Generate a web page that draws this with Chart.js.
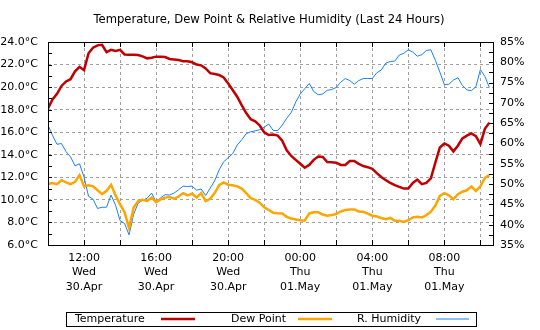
<!DOCTYPE html>
<html>
<head>
<meta charset="utf-8">
<script src="https://cdn.jsdelivr.net/npm/chart.js@4.4.1/dist/chart.umd.min.js"></script>
<style>
  html, body { margin: 0; padding: 0; background: #fff; }
</style>
</head>
<body>
<canvas id="chart" width="540" height="330"></canvas>
<script>
// readings every 15 min, x = hours after 10:00 Wed 30.Apr
const stepHours = 0.25;

const temperature = [
  18.1, 18.9, 19.4, 20.1, 20.5, 20.7, 21.4, 21.8,
  21.5, 23.0, 23.5, 23.7, 23.75, 23.1, 23.3, 23.2,
  23.3, 22.9, 22.88, 22.88, 22.85, 22.72, 22.55, 22.6,
  22.7, 22.7, 22.67, 22.5, 22.45, 22.4, 22.3, 22.3,
  22.2, 22.0, 21.93, 21.65, 21.24, 21.16, 21.07, 20.85,
  20.33, 19.75, 19.15, 18.4, 17.7, 17.15, 16.97, 16.6,
  16.0, 15.75, 15.8, 15.7, 15.25, 14.4, 13.9, 13.55,
  13.2, 12.85, 13.1, 13.55, 13.85, 13.8, 13.35, 13.33,
  13.3, 13.1, 13.1, 13.45, 13.45, 13.2, 13.0, 12.9,
  12.75, 12.37, 12.03, 11.75, 11.5, 11.3, 11.15, 11.0,
  11.0, 11.5, 11.8, 11.4, 11.5, 11.9, 13.3, 14.65,
  15.0, 14.8, 14.3, 14.8, 15.45, 15.7, 15.9, 15.65,
  14.95, 16.3, 16.85
];

const dewPoint = [
  11.4, 11.5, 11.4, 11.75, 11.55, 11.4, 11.6, 12.2,
  11.2, 11.3, 11.2, 10.85, 10.5, 10.8, 11.35, 10.4,
  9.6, 8.9, 7.5, 9.3, 9.9, 10.0, 9.9, 10.2,
  9.8, 10.05, 10.2, 10.25, 10.1, 10.3, 10.6, 10.4,
  10.55, 10.2, 10.6, 9.9, 10.1, 10.6, 11.3, 11.55,
  11.35, 11.3, 11.2, 11.0, 10.6, 10.15, 10.0, 9.75,
  9.35, 9.1, 8.85, 8.82, 8.8, 8.5, 8.35, 8.27,
  8.2, 8.15, 8.8, 8.9, 8.9, 8.7, 8.6, 8.65,
  8.75, 8.97, 9.1, 9.15, 9.15, 8.97, 8.95, 8.78,
  8.6, 8.53, 8.4, 8.28, 8.4, 8.14, 8.14, 8.05,
  8.2, 8.45, 8.5, 8.44, 8.65, 8.95, 9.5, 10.35,
  10.6, 10.4, 10.05, 10.5, 10.72, 10.85, 11.2, 10.8,
  11.2, 11.95, 12.2
];

const humidity = [
  64.5, 62.0, 59.8, 60.0, 58.0, 56.7, 54.5, 55.0,
  51.7, 47.0, 46.3, 44.0, 44.3, 44.3, 47.3, 44.8,
  41.0, 40.3, 37.5, 42.5, 45.3, 46.0, 46.5, 47.8,
  45.6, 46.6, 47.4, 47.3, 47.8, 48.6, 49.5, 49.4,
  49.5, 48.5, 48.8, 47.2, 49.0, 50.8, 53.5, 55.5,
  56.5, 57.5, 59.6, 60.9, 62.4, 62.9, 63.1, 63.4,
  64.0, 64.8, 63.2, 63.2, 64.5, 66.2, 67.6, 70.2,
  72.2, 73.5, 74.8, 72.8, 72.0, 72.2, 73.1, 73.3,
  73.8, 75.1, 76.0, 75.5, 74.6, 75.5, 76.0, 76.0,
  76.0, 77.4, 78.1, 79.8, 80.2, 80.3, 81.8, 82.2,
  83.1, 82.5, 81.5, 81.9, 82.9, 83.1, 80.5, 77.6,
  74.5, 74.6, 75.6, 76.2, 74.3, 73.2, 73.0, 74.0,
  78.2, 76.5, 73.8
];

const tickHours = [2, 6, 10, 14, 18, 22];
const tickLabels = [
  ['12:00', 'Wed', '30.Apr'],
  ['16:00', 'Wed', '30.Apr'],
  ['20:00', 'Wed', '30.Apr'],
  ['00:00', 'Thu', '01.May'],
  ['04:00', 'Thu', '01.May'],
  ['08:00', 'Thu', '01.May']
];

const seriesNames = ['Temperature', 'Dew Point', 'R. Humidity'];
const seriesColors = ['#c00000', '#ffa500', '#1a80f0'];
const titleText = 'Temperature, Dew Point & Relative Humidity (Last 24 Hours)';

const FONT = 'DejaVu Sans';
Chart.defaults.font.family = FONT;
Chart.defaults.color = '#000';

function toPoints(arr) {
  return arr.map((v, i) => ({ x: i * stepHours, y: v }));
}

// frame, inward ticks, title and legend box
const framePlugin = {
  id: 'frame',
  afterDraw(chart) {
    const ctx = chart.ctx;
    const a = chart.chartArea;
    const sx = chart.scales.x, sy = chart.scales.y, sy2 = chart.scales.y2;
    ctx.save();
    ctx.strokeStyle = '#000';
    ctx.lineWidth = 1;
    ctx.beginPath();
    for (let v = 6; v <= 24; v += 1) {
      const y = Math.round(sy.getPixelForValue(v)) + 0.5;
      ctx.moveTo(a.left, y); ctx.lineTo(a.left + 4, y);
    }
    for (let v = 35; v <= 85; v += 2.5) {
      const y = Math.round(sy2.getPixelForValue(v)) + 0.5;
      ctx.moveTo(a.right - 4, y); ctx.lineTo(a.right, y);
    }
    for (let v = 0; v <= 24; v += 2) {
      const x = Math.round(sx.getPixelForValue(v)) + 0.5;
      ctx.moveTo(x, a.top); ctx.lineTo(x, a.top + 5);
      ctx.moveTo(x, a.bottom); ctx.lineTo(x, a.bottom - 5);
    }
    ctx.stroke();
    ctx.strokeRect(Math.round(a.left) + 0.5, Math.round(a.top) + 0.5,
      Math.round(a.right - a.left), Math.round(a.bottom - a.top));

    // title
    ctx.fillStyle = '#000';
    ctx.font = '11.6px "' + FONT + '"';
    ctx.textAlign = 'center';
    ctx.textBaseline = 'middle';
    ctx.fillText(titleText, 269, 20);

    // legend
    ctx.strokeRect(66.5, 312.5, 410, 14);
    ctx.font = '11px "' + FONT + '"';
    ctx.textAlign = 'left';
    const textX = [75, 231, 357];
    const lineX = [[161, 195], [298, 332], [436, 469]];
    const widths = [2.5, 2.5, 1];
    for (let i = 0; i < 3; i++) {
      ctx.fillStyle = '#000';
      ctx.fillText(seriesNames[i], textX[i], 319.5);
      ctx.strokeStyle = seriesColors[i];
      ctx.lineWidth = widths[i];
      ctx.beginPath();
      ctx.moveTo(lineX[i][0], 319);
      ctx.lineTo(lineX[i][1], 319);
      ctx.stroke();
    }
    ctx.restore();
  }
};

new Chart(document.getElementById('chart'), {
  type: 'line',
  data: {
    datasets: [
      { label: seriesNames[0], data: toPoints(temperature), yAxisID: 'y',
        borderColor: seriesColors[0], borderWidth: 2.5 },
      { label: seriesNames[1], data: toPoints(dewPoint), yAxisID: 'y',
        borderColor: seriesColors[1], borderWidth: 2.5 },
      { label: seriesNames[2], data: toPoints(humidity), yAxisID: 'y2',
        borderColor: seriesColors[2], borderWidth: 1 }
    ]
  },
  options: {
    responsive: false,
    animation: false,
    devicePixelRatio: 1,
    layout: { padding: { top: 42, left: 0, right: 0, bottom: 0 } },
    elements: { point: { radius: 0 }, line: { tension: 0, fill: false } },
    plugins: {
      legend: { display: false },
      title: { display: false },
      tooltip: { enabled: false }
    },
    scales: {
      x: {
        type: 'linear',
        min: 0,
        max: 24.7,
        afterFit: (s) => { s.height = 85; },
        grid: { color: '#a0a0a0', lineWidth: 1, drawTicks: false },
        border: { display: false, dash: [3, 3] },
        ticks: {
          stepSize: 2,
          includeBounds: false,
          autoSkip: false,
          maxRotation: 0,
          padding: 6,
          font: { size: 11, lineHeight: 1.3 },
          callback: (v) => {
            const k = tickHours.indexOf(v);
            return k < 0 ? '' : tickLabels[k];
          }
        }
      },
      y: {
        position: 'left',
        min: 6,
        max: 24,
        afterFit: (s) => { s.width = 48; },
        grid: { color: '#a0a0a0', lineWidth: 1, drawTicks: false },
        border: { display: false, dash: [3, 3] },
        ticks: {
          stepSize: 2,
          padding: 10,
          font: { size: 11 },
          callback: (v) => v.toFixed(1) + '°C'
        }
      },
      y2: {
        position: 'right',
        min: 35,
        max: 85,
        afterFit: (s) => { s.width = 47; },
        grid: { drawOnChartArea: false, drawTicks: false },
        border: { display: false },
        ticks: {
          stepSize: 5,
          padding: 7,
          font: { size: 11 },
          callback: (v) => v + '%'
        }
      }
    }
  },
  plugins: [framePlugin]
});
</script>
</body>
</html>
